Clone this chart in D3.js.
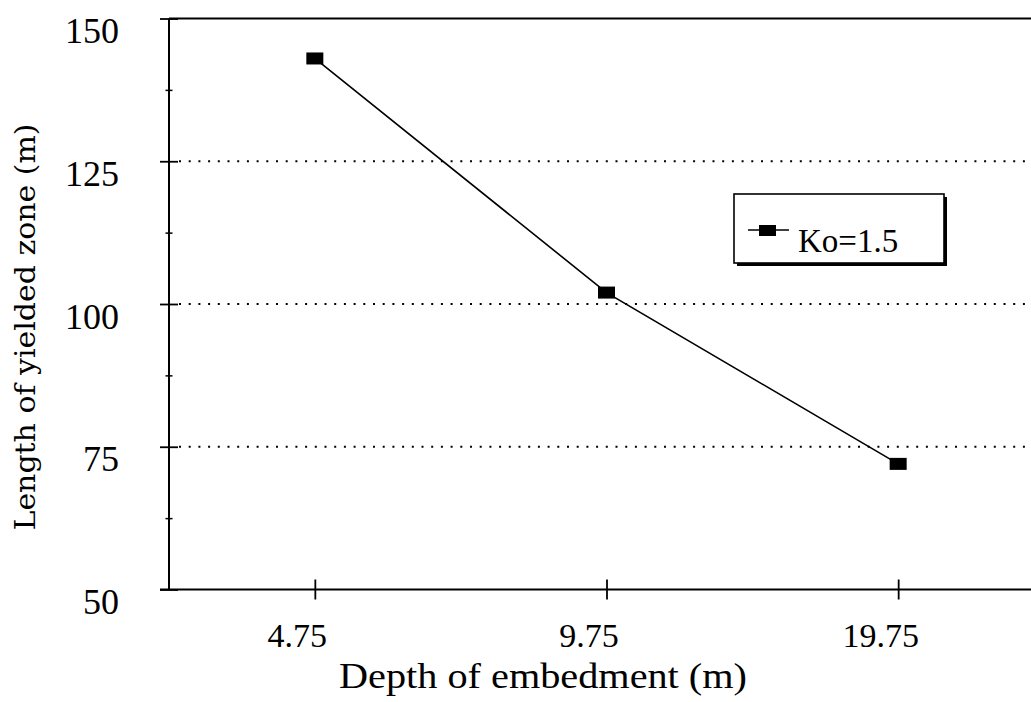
<!DOCTYPE html>
<html>
<head>
<meta charset="utf-8">
<script src="https://cdn.jsdelivr.net/npm/d3@7"></script>
<style>
  html, body { margin: 0; padding: 0; background: #fff; }
  svg { display: block; }
</style>
</head>
<body>
<svg id="chart" width="1031" height="702"></svg>
<script>
const categories = ["4.75", "9.75", "19.75"];
const seriesName = "Ko=1.5";
const values = [143, 102, 72];
const yMajorTicks = [50, 75, 100, 125, 150];
const yMinorTicks = [62.5, 87.5, 112.5, 137.5];
const gridValues = [75, 100, 125];
const xTitle = "Depth of embedment (m)";
const yTitle = "Length of yielded zone (m)";

const svg = d3.select("#chart");
const plotLeft = 169, plotRight = 1044, plotTop = 18.5, plotBottom = 589.5;

const x = d3.scalePoint().domain(categories).range([plotLeft, plotRight]).padding(0.5);
const y = d3.scaleLinear().domain([50, 150]).range([plotBottom, plotTop]);

const serif = "'Liberation Serif', 'Times New Roman', serif";

// grid (dotted)
svg.append("g").selectAll("line").data(gridValues).join("line")
  .attr("x1", plotLeft + 10).attr("x2", 1031)
  .attr("y1", d => y(d)).attr("y2", d => y(d))
  .attr("stroke", "#000").attr("stroke-width", 2)
  .attr("stroke-dasharray", "2 7.7");

// top border
svg.append("line").attr("x1", plotLeft).attr("x2", 1031)
  .attr("y1", plotTop).attr("y2", plotTop)
  .attr("stroke", "#000").attr("stroke-width", 2);

// y axis (major)
const yAxis = svg.append("g").attr("transform", `translate(${plotLeft},0)`)
  .call(d3.axisLeft(y).tickValues(yMajorTicks).tickSize(10).tickFormat(d3.format("d")));
yAxis.select(".domain").attr("stroke-width", 2).attr("d", `M0,${plotTop}V${plotBottom}`);
yAxis.selectAll(".tick line").attr("x1", -9).attr("x2", 9).attr("stroke-width", 1.8);
yAxis.selectAll(".tick text")
  .attr("x", -50).attr("dy", null).attr("y", 24)
  .attr("text-anchor", "end")
  .style("font-family", serif).style("font-size", "36px").attr("fill", "#000");

// y axis (minor)
const yMinor = svg.append("g").attr("transform", `translate(${plotLeft},0)`)
  .call(d3.axisLeft(y).tickValues(yMinorTicks).tickSize(4).tickFormat(""));
yMinor.select(".domain").remove();
yMinor.selectAll(".tick line").attr("x1", -3.5).attr("x2", 3.5).attr("stroke-width", 1.5);

// x axis
const xAxis = svg.append("g").attr("transform", `translate(0,${plotBottom})`)
  .call(d3.axisBottom(x).tickSize(10));
xAxis.select(".domain").attr("stroke-width", 2).attr("d", `M${plotLeft - 9},0H1031`);
xAxis.selectAll(".tick line").attr("y1", -10).attr("y2", 10).attr("stroke-width", 1.8);
xAxis.selectAll(".tick text")
  .attr("x", -18).attr("y", 57).attr("dy", null)
  .style("font-family", serif).style("font-size", "34px").attr("fill", "#000");

// titles
svg.append("text").attr("x", 543).attr("y", 688)
  .attr("text-anchor", "middle")
  .attr("textLength", 408).attr("lengthAdjust", "spacingAndGlyphs")
  .style("font-family", serif).style("font-size", "35px")
  .text(xTitle);

svg.append("text")
  .attr("transform", `translate(35,327) rotate(-90)`)
  .attr("text-anchor", "middle")
  .attr("textLength", 407).attr("lengthAdjust", "spacingAndGlyphs")
  .style("font-family", "'DejaVu Serif', serif").style("font-size", "27px")
  .text(yTitle);

// data line
const data = categories.map((c, i) => ({ c, v: values[i] }));
svg.append("path").datum(data)
  .attr("fill", "none").attr("stroke", "#000").attr("stroke-width", 1.6)
  .attr("d", d3.line().x(d => x(d.c)).y(d => y(d.v)));

svg.append("g").selectAll("rect").data(data).join("rect")
  .attr("x", d => x(d.c) - 8.5).attr("y", d => y(d.v) - 6)
  .attr("width", 17).attr("height", 12).attr("fill", "#000");

// legend
const lg = svg.append("g");
lg.append("rect").attr("x", 737).attr("y", 197).attr("width", 210).attr("height", 69).attr("fill", "#000");
lg.append("rect").attr("x", 734).attr("y", 194).attr("width", 210).attr("height", 69)
  .attr("fill", "#fff").attr("stroke", "#000").attr("stroke-width", 1.6);
lg.append("line").attr("x1", 748).attr("x2", 789).attr("y1", 230).attr("y2", 230)
  .attr("stroke", "#000").attr("stroke-width", 1.6);
lg.append("rect").attr("x", 759).attr("y", 225).attr("width", 17).attr("height", 11).attr("fill", "#000");
lg.append("text").attr("x", 798).attr("y", 252)
  .style("font-family", serif).style("font-size", "33px")
  .text(seriesName);
</script>
</body>
</html>
